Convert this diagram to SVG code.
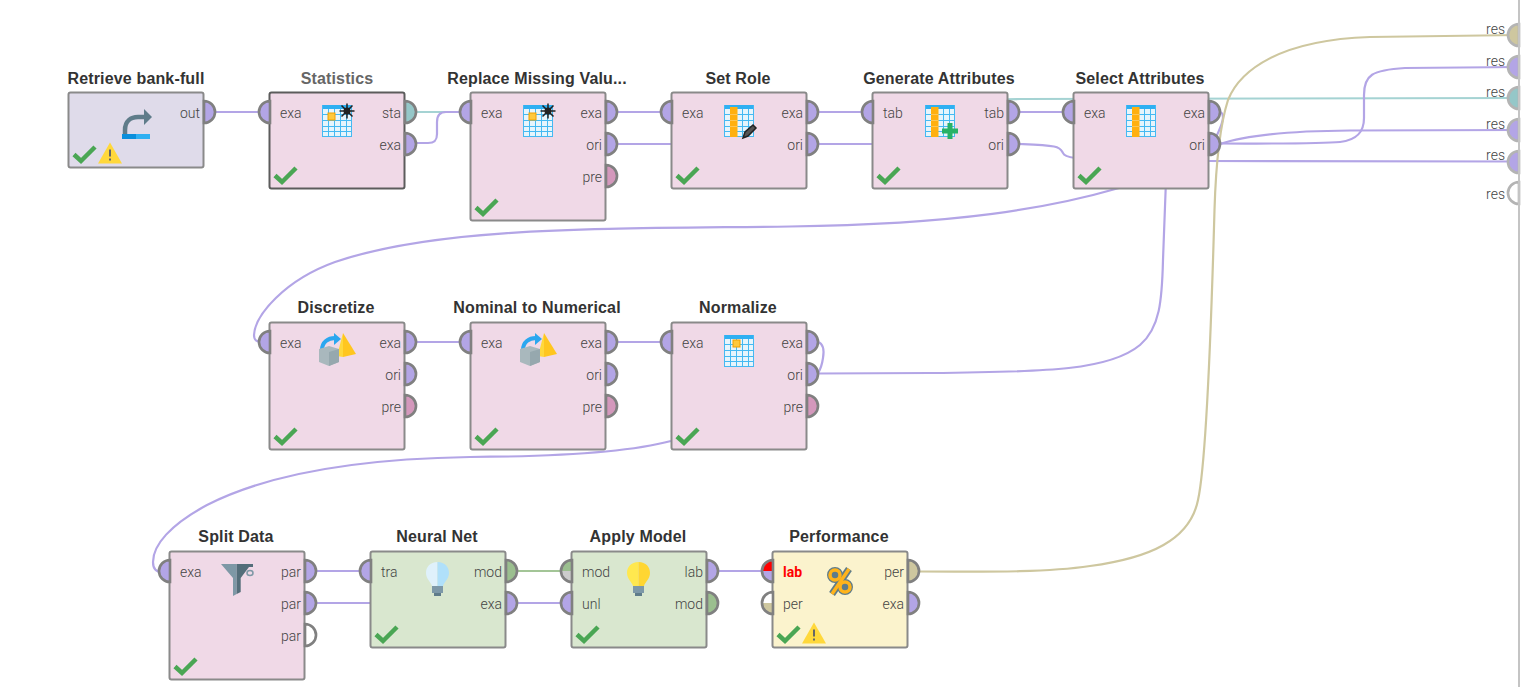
<svg xmlns="http://www.w3.org/2000/svg" width="1522" height="687" viewBox="0 0 1522 687">
<style>
.box{stroke:#8a8a8a;stroke-width:2}
.pk{fill:#f0d9e7}.gy{fill:#dfdbea}.gr{fill:#d9e7cf}.yl{fill:#fbf3cd}
.t{font:bold 16px "Liberation Sans",Arial,sans-serif;letter-spacing:.15px;fill:#333;text-anchor:middle}
.l{font:300 14px Roboto,sans-serif;fill:#444}
.r{text-anchor:end}
.p{stroke:#808080;stroke-width:2.5}
.rp{stroke:#b4b4b4;stroke-width:2.5}
.pu{fill:#b3a5e6}.te{fill:#95c7c8}.pi{fill:#d498bc}.kh{fill:#cec79f}.ge{fill:#9bbf8f}.em{fill:#fff}
.c{fill:none;stroke:#b3a5e6;stroke-width:2.2}
.ct{stroke:#a5d3d3}.ck{stroke:#cec79f}.cg{stroke:#a3c597}
</style>
<defs>
<path id="pr" d="M0,-10.500A10.500,10.500 0 0 1 0,10.500Z" transform="scale(1.050)"/>
<path id="pl" d="M0,-10.500A10.500,10.500 0 0 0 0,10.500Z" transform="scale(1.050)"/>
<path id="ok" d="M6,-13L13,-6.500L27,-20.500" fill="none" stroke="#4aa654" stroke-width="4.500"/>
<g id="warn"><path d="M42,-25L54,-4H30Z" fill="#ffd83b"/><rect x="41" y="-18" width="2" height="7" fill="#666"/><rect x="41" y="-9" width="2" height="2" fill="#666"/></g>
<g id="tbl"><rect x="0" y="0" width="30" height="32" fill="#e6f5fc"/><rect x="0" y="0" width="30" height="4" fill="#2fb0f2"/>
<path d="M.5,0V32M6.500,4V32M12.500,4V32M18.500,4V32M24.500,4V32M29.500,0V32M0,9.500H30M0,15.500H30M0,21.500H30M0,26.500H30M0,31.500H30" stroke="#45b9f2" fill="none"/></g>
<g id="col"><rect x="6" y="2" width="7.500" height="30" fill="#ffb00f"/><path d="M6,9.500H13.500M6,15.500H13.500M6,21.500H13.500" stroke="#ffc654" fill="none"/></g>
<rect id="cell" x="6" y="8" width="7" height="7" fill="#ffc83c" stroke="#f0a000"/>
<g id="sun"><path d="M-7.500,0H7.500M0,-7.500V7.500M-5.500,-5.500L5.500,5.500M-5.500,5.500L5.500,-5.500" stroke="#222" stroke-width="1.500"/><circle r="3.500" fill="#222"/></g>
<g id="disc"><path d="M343,333L356,354L343,357Z" fill="#ffc61f"/><path d="M343,333L337,356L343,357Z" fill="#ffd83b"/>
<path d="M322,350C322,342 328,338 335,338" fill="none" stroke="#2ba7ef" stroke-width="4"/><path d="M334,333L341,339L334,345Z" fill="#2ba7ef"/>
<path d="M319,349L329,346L339,349V362L329,366L319,362Z" fill="#a9b8bd"/><path d="M329,352L339,349V362L329,366Z" fill="#96a8ae"/></g>
<g id="bulbb"><rect x="-5.500" y="24" width="11" height="7" fill="#7d98a8"/><rect x="-3.500" y="31" width="7" height="3" fill="#5f7c8a"/></g>
</defs>

<g id="connectors">
<path class="c ct" d="M416,112H872C930,112 940,100 1020,99L1519,98"/>
<path class="c" d="M215,112H259"/>
<path class="c" d="M416,143H428C435,143 437,140 437,134V122C437,115 440,112 446,112H459"/>
<path class="c" d="M617,112H660"/>
<path class="c" d="M617,144H672"/>
<path class="c" d="M818,112H861"/>
<path class="c" d="M818,144H873"/>
<path class="c" d="M1019,112H1062"/>
<path class="c" d="M1019,144C1030,144.500 1045,145 1054,146.500C1062,148 1062,152 1063,153C1064,156 1068,157 1075,158"/>
<path class="c" d="M1205,161L1519,161.500"/>
<path class="c" d="M1220,112C1226,114 1222,125 1216,137L1200,160L1119,188C1050,208 960,224 790,226.500C600,229 440,226 335,262C285,280 255,315 254,335C254,340 256,342 262,342"/>
<path class="c" d="M1220,144C1240,137 1280,131 1350,130.500L1519,130"/>
<path class="c" d="M1220,143.500C1270,143.500 1320,144 1340,142C1357,140 1364,132 1364,118L1364,95C1364,75 1372,70 1405,68L1519,67"/>
<path class="c" d="M416,342H459"/>
<path class="c" d="M617,342H660"/>
<path class="c" d="M818,342C824,344 824,352 823,358C822,365 820,370 818,373"/>
<path class="c" d="M818,373.500L930,373C1050,372 1110,370 1140,345C1160,328 1162,300 1163,260L1166,180"/>
<path class="c" d="M671,441C630,452 560,456.500 470,457C340,459 260,478 207,505C170,525 153,545 153,562C153,568 155,572 162,572"/>
<path class="c" d="M316,571H359"/>
<path class="c" d="M316,603H371"/>
<path class="c cg" d="M517,571H560"/>
<path class="c" d="M517,603H560"/>
<path class="c" d="M718,571H761"/>
<path class="c ck" d="M919,571.500C1000,572 1050,572 1090,566C1150,558 1190,540 1198,500C1207,460 1212,300 1214.500,210C1216,160 1220,125 1228,100C1240,70 1280,40 1370,37L1519,35"/>
</g>

<g id="retrieve">
<text class="t" x="136" y="84">Retrieve bank-full</text>
<rect class="box gy" x="68.500" y="92.500" width="135" height="75" rx="2"/>
<use href="#pr" class="p pu" x="204" y="112"/>
<text class="l r" x="200" y="118">out</text>
<path d="M125,134V130C125,121 131,117 138,117H145" fill="none" stroke="#5f7c8a" stroke-width="4.500"/><path d="M144,109L152,117L144,125Z" fill="#5f7c8a"/>
<rect x="122" y="134" width="28" height="5" fill="#2fb0f2"/><rect x="122" y="134" width="14" height="5" fill="#0a8fdc"/>
<use href="#ok" x="68" y="167.500"/><use href="#warn" x="68" y="167.500"/>
</g>

<g id="statistics">
<text class="t" x="337" y="84" style="fill:#666">Statistics</text>
<rect class="box pk" x="269.500" y="92.500" width="135" height="96" rx="2" style="stroke:#5c5c5c"/>
<use href="#pl" class="p pu" x="270" y="112"/><use href="#pr" class="p te" x="405" y="112"/><use href="#pr" class="p pu" x="405" y="144"/>
<text class="l" x="280" y="118">exa</text><text class="l r" x="401" y="118">sta</text><text class="l r" x="401" y="150">exa</text>
<use href="#tbl" x="322" y="105"/><use href="#cell" x="322" y="105"/><use href="#sun" x="347" y="111"/>
<use href="#ok" x="269" y="188.500"/>
</g>

<g id="replace">
<text class="t" x="537" y="84">Replace Missing Valu...</text>
<rect class="box pk" x="470.500" y="92.500" width="135" height="128" rx="2"/>
<use href="#pl" class="p pu" x="471" y="112"/><use href="#pr" class="p pu" x="606" y="112"/><use href="#pr" class="p pu" x="606" y="144"/><use href="#pr" class="p pi" x="606" y="176"/>
<text class="l" x="481" y="118">exa</text><text class="l r" x="602" y="118">exa</text><text class="l r" x="602" y="150">ori</text><text class="l r" x="602" y="182">pre</text>
<use href="#tbl" x="523" y="105"/><use href="#cell" x="523" y="105"/><use href="#sun" x="548" y="111"/>
<use href="#ok" x="470" y="220.500"/>
</g>

<g id="setrole">
<text class="t" x="738" y="84">Set Role</text>
<rect class="box pk" x="671.500" y="92.500" width="135" height="96" rx="2"/>
<use href="#pl" class="p pu" x="672" y="112"/><use href="#pr" class="p pu" x="807" y="112"/><use href="#pr" class="p pu" x="807" y="144"/>
<text class="l" x="682" y="118">exa</text><text class="l r" x="803" y="118">exa</text><text class="l r" x="803" y="150">ori</text>
<use href="#tbl" x="724" y="105"/><use href="#col" x="724" y="105"/>
<path d="M743,138L745,132L753,125L756,128L748,136Z" fill="#555" stroke="#222" stroke-width="1.500"/>
<use href="#ok" x="671" y="188.500"/>
</g>

<g id="generate">
<text class="t" x="939" y="84">Generate Attributes</text>
<rect class="box pk" x="872.500" y="92.500" width="135" height="96" rx="2"/>
<use href="#pl" class="p pu" x="873" y="112"/><use href="#pr" class="p pu" x="1008" y="112"/><use href="#pr" class="p pu" x="1008" y="144"/>
<text class="l" x="883" y="118">tab</text><text class="l r" x="1004" y="118">tab</text><text class="l r" x="1004" y="150">ori</text>
<use href="#tbl" x="925" y="105"/><use href="#col" x="925" y="105"/>
<path d="M950,123V139M942,131H958" stroke="#28b266" stroke-width="5" fill="none"/>
<use href="#ok" x="872" y="188.500"/>
</g>

<g id="select">
<text class="t" x="1140" y="84">Select Attributes</text>
<rect class="box pk" x="1073.500" y="92.500" width="135" height="96" rx="2"/>
<use href="#pl" class="p pu" x="1074" y="112"/><use href="#pr" class="p pu" x="1209" y="112"/><use href="#pr" class="p pu" x="1209" y="144"/>
<text class="l" x="1084" y="118">exa</text><text class="l r" x="1205" y="118">exa</text><text class="l r" x="1205" y="150">ori</text>
<use href="#tbl" x="1126" y="105"/><use href="#col" x="1126" y="105"/>
<use href="#ok" x="1073" y="188.500"/>
</g>

<g id="discretize">
<text class="t" x="336" y="313">Discretize</text>
<rect class="box pk" x="269.500" y="322.500" width="135" height="127" rx="2"/>
<use href="#pl" class="p pu" x="270" y="342"/><use href="#pr" class="p pu" x="405" y="342"/><use href="#pr" class="p pu" x="405" y="374"/><use href="#pr" class="p pi" x="405" y="406"/>
<text class="l" x="280" y="348">exa</text><text class="l r" x="401" y="348">exa</text><text class="l r" x="401" y="380">ori</text><text class="l r" x="401" y="412">pre</text>
<use href="#disc"/>
<use href="#ok" x="269" y="449.500"/>
</g>

<g id="nominal">
<text class="t" x="537" y="313">Nominal to Numerical</text>
<rect class="box pk" x="470.500" y="322.500" width="135" height="127" rx="2"/>
<use href="#pl" class="p pu" x="471" y="342"/><use href="#pr" class="p pu" x="606" y="342"/><use href="#pr" class="p pu" x="606" y="374"/><use href="#pr" class="p pi" x="606" y="406"/>
<text class="l" x="481" y="348">exa</text><text class="l r" x="602" y="348">exa</text><text class="l r" x="602" y="380">ori</text><text class="l r" x="602" y="412">pre</text>
<use href="#disc" x="201"/>
<use href="#ok" x="470" y="449.500"/>
</g>

<g id="normalize">
<text class="t" x="738" y="313">Normalize</text>
<rect class="box pk" x="671.500" y="322.500" width="135" height="127" rx="2"/>
<use href="#pl" class="p pu" x="672" y="342"/><use href="#pr" class="p pu" x="807" y="342"/><use href="#pr" class="p pu" x="807" y="374"/><use href="#pr" class="p pi" x="807" y="406"/>
<text class="l" x="682" y="348">exa</text><text class="l r" x="803" y="348">exa</text><text class="l r" x="803" y="380">ori</text><text class="l r" x="803" y="412">pre</text>
<use href="#tbl" x="724" y="335"/><use href="#cell" x="727" y="332"/>
<use href="#ok" x="671" y="449.500"/>
</g>

<g id="split">
<text class="t" x="236" y="542">Split Data</text>
<rect class="box pk" x="169.500" y="551.500" width="135" height="128" rx="2"/>
<use href="#pl" class="p pu" x="170" y="571"/><use href="#pr" class="p pu" x="305" y="571"/><use href="#pr" class="p pu" x="305" y="603"/><use href="#pr" class="p em" x="305" y="635"/>
<text class="l" x="180" y="577">exa</text><text class="l r" x="301" y="577">par</text><text class="l r" x="301" y="609">par</text><text class="l r" x="301" y="641">par</text>
<path d="M221,564H236.700V594L233,596V578Z" fill="#7e98a6"/><path d="M236.700,564H253V567H249L240.700,578V592L236.700,594Z" fill="#546e7a"/>
<ellipse cx="250" cy="573" rx="3" ry="2.500" fill="none" stroke="#7e98a6" stroke-width="1.500"/>
<use href="#ok" x="169" y="679.500"/>
</g>

<g id="neuralnet">
<text class="t" x="437" y="542">Neural Net</text>
<rect class="box gr" x="370.500" y="551.500" width="135" height="96" rx="2"/>
<use href="#pl" class="p pu" x="371" y="571"/><use href="#pr" class="p ge" x="506" y="571"/><use href="#pr" class="p pu" x="506" y="603"/>
<text class="l" x="381" y="577">tra</text><text class="l r" x="502" y="577">mod</text><text class="l r" x="502" y="609">exa</text>
<path d="M437.500,562C430,562 426,567 426,573C426,579 431,582 432,586H437.500Z" fill="#dff1fb"/><path d="M437.500,562C445,562 449,567 449,573C449,579 444,582 443,586H437.500Z" fill="#b0e0fa"/>
<use href="#bulbb" x="437.500" y="562"/>
<use href="#ok" x="370" y="647.500"/>
</g>

<g id="apply">
<text class="t" x="638" y="542">Apply Model</text>
<rect class="box gr" x="571.500" y="551.500" width="135" height="96" rx="2"/>
<path d="M572,571H561A11,11 0 0 1 572,560Z" class="ge"/><path d="M572,571H561A11,11 0 0 0 572,582Z" fill="#ccc"/>
<use href="#pl" x="572" y="571" class="p" fill="none"/>
<use href="#pl" class="p pu" x="572" y="603"/><use href="#pr" class="p pu" x="707" y="571"/><use href="#pr" class="p ge" x="707" y="603"/>
<text class="l" x="582" y="577">mod</text><text class="l" x="582" y="609">unl</text><text class="l r" x="703" y="577">lab</text><text class="l r" x="703" y="609">mod</text>
<path d="M638.500,562C631,562 627,567 627,573C627,579 632,582 633,586H638.500Z" fill="#ffe84f"/><path d="M638.500,562C646,562 650,567 650,573C650,579 645,582 644,586H638.500Z" fill="#ffd632"/>
<use href="#bulbb" x="638.500" y="562"/>
<use href="#ok" x="571" y="647.500"/>
</g>

<g id="performance">
<text class="t" x="839" y="542">Performance</text>
<rect class="box yl" x="772.500" y="551.500" width="135" height="96" rx="2"/>
<path d="M773,571H762A11,11 0 0 1 773,560Z" fill="#f00"/><path d="M773,571H762A11,11 0 0 0 773,582Z" class="pu"/>
<use href="#pl" x="773" y="571" class="p" fill="none"/>
<path d="M773,603H762A11,11 0 0 1 773,592Z" fill="#fff"/><path d="M773,603H762A11,11 0 0 0 773,614Z" class="kh"/>
<use href="#pl" x="773" y="603" class="p" fill="none"/>
<use href="#pr" class="p kh" x="908" y="571"/><use href="#pr" class="p pu" x="908" y="603"/>
<text class="l" x="783" y="577" style="fill:#f00;font:bold 14px Roboto,sans-serif">lab</text><text class="l" x="783" y="609">per</text><text class="l r" x="904" y="577">per</text><text class="l r" x="904" y="609">exa</text>
<g fill="#5f7c8a"><path d="M849,569L832,594" stroke="#5f7c8a" stroke-width="7"/><circle cx="835" cy="575" r="5" stroke="#5f7c8a" stroke-width="6"/><circle cx="845" cy="587" r="5" stroke="#5f7c8a" stroke-width="6"/>
<path d="M849,569L832,594" stroke="#ffb31a" stroke-width="3.500"/><circle cx="835" cy="575" r="5" stroke="#ffb31a" stroke-width="3.500"/><circle cx="845" cy="587" r="5" stroke="#ffb31a" stroke-width="3.500"/></g>
<use href="#ok" x="772" y="647.500"/><use href="#warn" x="772" y="647.500"/>
</g>

<g id="results">
<use href="#pl" class="rp kh" x="1519" y="35"/><use href="#pl" class="rp pu" x="1519" y="67"/><use href="#pl" class="rp te" x="1519" y="98"/><use href="#pl" class="rp pu" x="1519" y="130"/><use href="#pl" class="rp pu" x="1519" y="162"/><use href="#pl" class="rp em" x="1519" y="193"/>
<rect x="1518" y="0" width="2" height="687" fill="#c4c4c4"/>
<text class="l r" x="1505" y="34">res</text><text class="l r" x="1505" y="66">res</text><text class="l r" x="1505" y="97">res</text><text class="l r" x="1505" y="129">res</text><text class="l r" x="1505" y="160">res</text><text class="l r" x="1505" y="199">res</text>
</g>
</svg>
